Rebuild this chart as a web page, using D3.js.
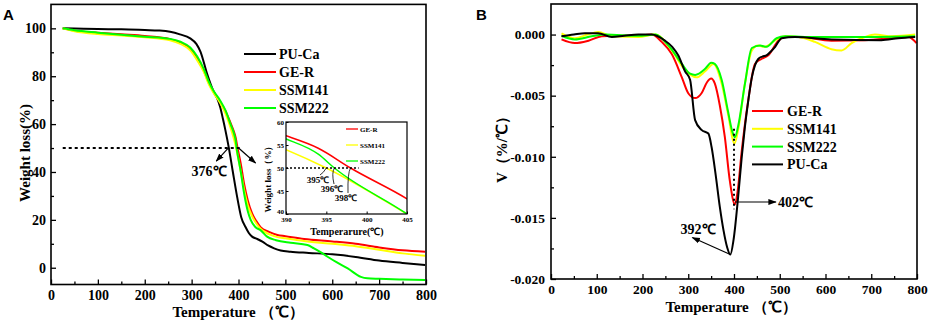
<!DOCTYPE html>
<html>
<head>
<meta charset="utf-8">
<script src="https://cdn.jsdelivr.net/npm/d3@7"></script>
<style>
body { margin: 0; background: #fff; }
svg { display: block; }
text { font-family: "Liberation Serif", "Times New Roman", serif; font-weight: bold; fill: #000; }
</style>
</head>
<body>
<svg id="chart"></svg>
<script>
const width = 931, height = 322;

// Series names and colours (TGA panel order / DTG panel order)
const seriesA = ["PU-Ca", "GE-R", "SSM141", "SSM222"];
const seriesB = ["GE-R", "SSM141", "SSM222", "PU-Ca"];
const colors = { "PU-Ca": "#000000", "GE-R": "#ff0000", "SSM141": "#ffff00", "SSM222": "#00ff00" };

// Panel A: weight (%) vs temperature (℃)
const tgaPUCa = [[25,100],[50,99.9],[100,99.7],[150,99.6],[200,99.3],[230,99.1],[254,98.6],[275,97.5],[297,95.8],[310,93.5],[319,90.2],[333,81],[347,73.5],[355,70.5],[361,67],[367,62],[372,57.5],[379,50.5],[388,40],[397,29.7],[406,21],[415,17],[422,14.5],[429,13],[440,12],[451,10.9],[463,9.3],[476,8.1],[490,7.2],[511,6.7],[550,6.2],[600,5.6],[650,4.5],[700,3],[750,2],[798,1.1]];
const tgaGER = [[25,100],[50,99],[100,98.2],[150,97.5],[200,96.8],[254,95.5],[276,94],[297,91.3],[312,87.2],[326,82.3],[337,77],[347,73.5],[361,69.2],[372,65.5],[383,60.5],[390,57],[394,54.3],[398,50],[405,43.3],[412,35],[420,28],[429,22.7],[438,19.5],[447,17],[465,15],[483,13.7],[500,13.2],[540,12],[600,11],[650,10],[700,8.5],[750,7.3],[798,6.7]];
const tgaSSM141 = [[25,100],[50,98.8],[100,97.6],[150,97],[200,96.3],[254,95],[276,93.5],[297,90.8],[312,86.6],[326,81.8],[337,76.5],[347,73],[361,68.8],[372,64.5],[383,58.5],[390,54],[395,50],[405,40],[412,32.5],[420,26],[429,21.5],[438,18.5],[447,16.3],[465,14],[483,12.8],[500,12.3],[540,11.2],[600,10],[650,9],[700,7.5],[750,6],[798,5]];
const tgaSSM222 = [[25,100],[50,99.2],[100,98.2],[150,97.3],[200,96.5],[254,95.6],[276,94.4],[297,92],[312,88.2],[326,83],[337,77.5],[347,73.8],[361,69.8],[372,65.8],[383,60],[390,56.3],[394,53],[396,50],[405,40],[412,31],[420,23.5],[426,20],[436,17],[447,15.7],[461,13],[480,11.5],[511,10.4],[547,9.5],[561,8.1],[575,6.5],[590,4.6],[610,2.2],[633,-0.3],[661,-3.8],[675,-4.4],[700,-4.6],[750,-4.9],[798,-5.1]];

// Panel B: DTG rate (%/℃) vs temperature (℃)
const dtgGER = [[23,-0.0004],[52,-0.0007],[82,-0.0005],[111,-0.00014],[140,-0.0001],[180,-0.0001],[220,0],[242,-0.0006],[264,-0.0016],[286,-0.0035],[300,-0.0048],[315,-0.0052],[329,-0.0048],[341,-0.0039],[350,-0.0036],[358,-0.004],[369,-0.0058],[380,-0.0084],[391,-0.012],[402,-0.0139],[408,-0.0128],[417,-0.0095],[431,-0.0054],[446,-0.0024],[460,-0.002],[475,-0.0017],[497,-0.0005],[512,-0.0002],[541,-0.0002],[613,-0.0005],[686,-0.00046],[759,-0.00025],[781,-0.0002],[799,-0.0007]];
const dtgSSM141 = [[23,0.0001],[52,-0.0003],[80,0],[103,0.0002],[133,-0.00014],[191,-0.0002],[228,0],[264,-0.0013],[293,-0.0029],[318,-0.0035],[337,-0.003],[355,-0.0024],[373,-0.004],[387,-0.0065],[401,-0.0089],[409,-0.0078],[424,-0.004],[439,-0.0013],[453,-0.0009],[467,-0.001],[493,-0.0004],[512,-0.00014],[541,-0.0002],[577,-0.0006],[613,-0.0012],[635,-0.0013],[657,-0.0007],[686,-0.0002],[708,0],[745,-0.00014],[796,0]];
const dtgSSM222 = [[23,-0.0001],[52,-0.0004],[89,-0.00014],[118,0],[191,-0.0001],[228,0],[257,-0.0009],[286,-0.0024],[304,-0.0032],[315,-0.0033],[337,-0.0028],[350,-0.0023],[358,-0.0024],[373,-0.0037],[387,-0.0063],[396,-0.0079],[402,-0.0084],[409,-0.0075],[424,-0.004],[439,-0.0011],[457,-0.0009],[471,-0.001],[493,-0.0003],[512,-0.00014],[577,-0.0002],[686,-0.0002],[796,-0.00014]];
const dtgPUCa = [[23,-0.00014],[50,0],[74,0.0001],[103,0.0001],[133,-0.0002],[160,-0.0001],[191,0],[220,0],[249,-0.0005],[265,-0.001],[278,-0.0017],[293,-0.003],[304,-0.0037],[315,-0.007],[329,-0.0078],[344,-0.0081],[351,-0.0092],[360,-0.0115],[369,-0.0141],[377,-0.016],[385,-0.0174],[392,-0.018],[399,-0.0168],[409,-0.0133],[417,-0.01],[424,-0.0075],[432,-0.0052],[439,-0.0035],[446,-0.0025],[453,-0.002],[462,-0.0018],[471,-0.0017],[480,-0.0014],[490,-0.001],[504,-0.0003],[533,-0.0002],[613,-0.0004],[722,-0.00046],[759,-0.0003],[796,-0.0002]];

const tgaData = { "PU-Ca": tgaPUCa, "GE-R": tgaGER, "SSM141": tgaSSM141, "SSM222": tgaSSM222 };
const dtgData = { "GE-R": dtgGER, "SSM141": dtgSSM141, "SSM222": dtgSSM222, "PU-Ca": dtgPUCa };

// Tick values
const tempTicks = [0, 100, 200, 300, 400, 500, 600, 700, 800];
const tempMinor = [50, 150, 250, 350, 450, 550, 650, 750];
const weightTicks = [0, 20, 40, 60, 80, 100];
const weightMinor = [10, 30, 50, 70, 90];
const rateTicks = [0, -0.005, -0.010, -0.015, -0.020];
const rateMinor = [-0.0025, -0.0075, -0.0125, -0.0175];
const insetTempTicks = [390, 395, 400, 405];
const insetWeightTicks = [40, 45, 50, 55, 60];
const insetSeries = ["GE-R", "SSM141", "SSM222"];
const insetCross = [395, 396, 398];

const svg = d3.select("#chart")
    .attr("width", width)
    .attr("height", height)
    .attr("viewBox", [0, 0, width, height]);

const defs = svg.append("defs");
defs.append("marker")
    .attr("id", "arrow")
    .attr("viewBox", "0 0 10 10")
    .attr("refX", 9).attr("refY", 5)
    .attr("markerWidth", 7).attr("markerHeight", 7)
    .attr("orient", "auto-start-reverse")
    .append("path")
    .attr("d", "M0,1.5L10,5L0,8.5Z")
    .attr("fill", "#000");

function drawAxes(g, x, y, o) {
    const [x0, x1] = x.range(), [y0, y1] = y.range();
    // major + minor ticks pointing inward
    g.append("g").attr("transform", `translate(0,${y0})`)
        .call(d3.axisBottom(x).tickValues(o.xTicks).tickSize(-o.tick).tickSizeOuter(0).tickPadding(o.xPad).tickFormat(o.xFmt || d3.format("d")))
        .call(a => a.select(".domain").remove())
        .call(a => a.selectAll("text").attr("font-size", o.font).attr("fill", "#000"));
    if (o.xMinor) g.append("g").attr("transform", `translate(0,${y0})`)
        .call(d3.axisBottom(x).tickValues(o.xMinor).tickSize(-o.tick * 0.6).tickSizeOuter(0).tickFormat(""))
        .call(a => a.select(".domain").remove());
    g.append("g").attr("class", "y-axis").attr("transform", `translate(${x0},0)`)
        .call(d3.axisLeft(y).tickValues(o.yTicks).tickSize(-o.tick).tickSizeOuter(0).tickPadding(o.yPad).tickFormat(o.yFmt || d3.format("d")))
        .call(a => a.select(".domain").remove())
        .call(a => a.selectAll("text").attr("font-size", o.font).attr("fill", "#000"));
    if (o.yMinor) g.append("g").attr("transform", `translate(${x0},0)`)
        .call(d3.axisLeft(y).tickValues(o.yMinor).tickSize(-o.tick * 0.6).tickSizeOuter(0).tickFormat(""))
        .call(a => a.select(".domain").remove());
    g.selectAll(".tick line").attr("stroke", "#000").attr("stroke-width", o.tickW || 1.3);
    g.append("rect")
        .attr("x", x0).attr("y", y1)
        .attr("width", x1 - x0).attr("height", y0 - y1)
        .attr("fill", "none").attr("stroke", "#000").attr("stroke-width", o.frame);
}

// ---------- Panel A ----------
const xA = d3.scaleLinear().domain([0, 800]).range([51, 426]);
const yA = d3.scaleLinear().domain([-7, 110]).range([284.5, 4.4]);
const gA = svg.append("g");

const lineA = d3.line().x(d => xA(d[0])).y(d => yA(d[1])).curve(d3.curveMonotoneX);

seriesA.forEach(s => {
    gA.append("path")
        .attr("d", lineA(tgaData[s]))
        .attr("fill", "none")
        .attr("stroke", colors[s])
        .attr("stroke-width", 2);
});

drawAxes(gA, xA, yA, { xTicks: tempTicks, xMinor: tempMinor, yTicks: weightTicks, yMinor: weightMinor,
    tick: 5, xPad: 6, yPad: 5, font: 14, frame: 1.6 });

gA.append("text").attr("x", 238).attr("y", 317).attr("text-anchor", "middle").attr("font-size", 15)
    .text("Temperature （℃）");
gA.append("text").attr("transform", "translate(30,153) rotate(-90)").attr("text-anchor", "middle").attr("font-size", 15)
    .text("Weight loss(%)");
svg.append("text").attr("x", 3).attr("y", 20).attr("font-size", 15)
    .style("font-family", "'Liberation Sans', Arial, sans-serif").text("A");

// 50% marker line and arrows
gA.append("line")
    .attr("x1", xA(25)).attr("x2", xA(404))
    .attr("y1", yA(50)).attr("y2", yA(50))
    .attr("stroke", "#000").attr("stroke-width", 2).attr("stroke-dasharray", "3,3");
gA.append("line")
    .attr("x1", xA(376) + 1).attr("y1", yA(50))
    .attr("x2", xA(376) - 11).attr("y2", yA(50) + 13)
    .attr("stroke", "#000").attr("stroke-width", 1.2).attr("marker-end", "url(#arrow)");
gA.append("line")
    .attr("x1", xA(398) + 1).attr("y1", yA(50))
    .attr("x2", xA(398) + 18).attr("y2", yA(50) + 15)
    .attr("stroke", "#000").attr("stroke-width", 1.2).attr("marker-end", "url(#arrow)");
gA.append("text").attr("x", 209).attr("y", 176).attr("text-anchor", "middle").attr("font-size", 14).text("376℃");

// legend A
seriesA.forEach((s, i) => {
    const ly = 54 + i * 18;
    gA.append("line").attr("x1", 244).attr("x2", 276).attr("y1", ly).attr("y2", ly)
        .attr("stroke", colors[s]).attr("stroke-width", 2);
    gA.append("text").attr("x", 279).attr("y", ly + 5).attr("font-size", 14).text(s);
});

// inset
const xI = d3.scaleLinear().domain([390, 405]).range([286, 407]);
const yI = d3.scaleLinear().domain([40, 60]).range([214, 122]);
const gI = gA.append("g");
gI.append("rect").attr("x", 286).attr("y", 122).attr("width", 121).attr("height", 92).attr("fill", "#fff");
defs.append("clipPath").attr("id", "inset-clip")
    .append("rect").attr("x", 286).attr("y", 122).attr("width", 121).attr("height", 92);
const lineI = d3.line().x(d => xI(d[0])).y(d => yI(d[1])).curve(d3.curveMonotoneX);
const insetG = gI.append("g").attr("clip-path", "url(#inset-clip)");
insetSeries.forEach(s => {
    insetG.append("path")
        .attr("d", lineI(tgaData[s].filter(d => d[0] >= 383 && d[0] <= 412)))
        .attr("fill", "none").attr("stroke", colors[s]).attr("stroke-width", 1.5);
});
drawAxes(gI, xI, yI, { xTicks: insetTempTicks, yTicks: insetWeightTicks, tick: 2.5, xPad: 3, yPad: 2,
    font: 7, frame: 1.2, tickW: 1 });
// lift the bottom-left "40" a touch so it clears "390"
gI.selectAll(".y-axis .tick text").filter(d => d === 40).attr("dy", "-0.1em");
gI.append("line")
    .attr("x1", xI(390)).attr("x2", xI(399))
    .attr("y1", yI(50)).attr("y2", yI(50))
    .attr("stroke", "#000").attr("stroke-width", 1.3).attr("stroke-dasharray", "2,2");
insetSeries.forEach((s, i) => {
    const ly = 129 + i * 16;
    gI.append("line").attr("x1", 346).attr("x2", 358).attr("y1", ly).attr("y2", ly)
        .attr("stroke", colors[s]).attr("stroke-width", 1.3);
    gI.append("text").attr("x", 360).attr("y", ly + 2.5).attr("font-size", 7).text(s);
});
const insetLabelPos = [[318, 183], [332, 192], [346, 201]];
insetCross.forEach((t, i) => {
    const [lx, ly] = insetLabelPos[i];
    gI.append("text").attr("x", lx).attr("y", ly).attr("text-anchor", "middle").attr("font-size", 9).text(t + "℃");
    const px = xI(t), py = yI(50);
    gI.append("path")
        .attr("d", `M${lx + 2},${ly - 8}Q${px - 3},${py + 5} ${px},${py}`)
        .attr("fill", "none").attr("stroke", "#000").attr("stroke-width", 0.8);
});
gI.append("text").attr("x", 347).attr("y", 235).attr("text-anchor", "middle").attr("font-size", 10).text("Temperarure(℃)");
gI.append("text").attr("transform", "translate(271,177) rotate(-90)").attr("text-anchor", "middle").attr("font-size", 9)
    .text("Weight loss（%）");

// ---------- Panel B ----------
const xB = d3.scaleLinear().domain([0, 800]).range([551, 917]);
const yB = d3.scaleLinear().domain([-0.020, 0.0025]).range([279, 4]);
const gB = svg.append("g");

const lineB = d3.line().x(d => xB(d[0])).y(d => yB(d[1])).curve(d3.curveMonotoneX);
seriesB.forEach(s => {
    gB.append("path")
        .attr("d", lineB(dtgData[s]))
        .attr("fill", "none")
        .attr("stroke", colors[s])
        .attr("stroke-width", 2);
});

drawAxes(gB, xB, yB, { xTicks: tempTicks, xMinor: tempMinor, yTicks: rateTicks, yMinor: rateMinor,
    tick: 5, xPad: 5, yPad: 6, font: 13.5, frame: 1.6, yFmt: d => d.toFixed(3) });

gB.append("text").attr("x", 731).attr("y", 312).attr("text-anchor", "middle").attr("font-size", 15)
    .text("Temperature （℃）");
gB.append("text").attr("transform", "translate(507,146) rotate(-90)").attr("text-anchor", "middle").attr("font-size", 15)
    .text("V（%/℃）");
svg.append("text").attr("x", 476).attr("y", 20).attr("font-size", 15)
    .style("font-family", "'Liberation Sans', Arial, sans-serif").text("B");

// peak markers
gB.append("line")
    .attr("x1", xB(400)).attr("x2", xB(400))
    .attr("y1", yB(-0.0077)).attr("y2", yB(-0.0143))
    .attr("stroke", "#000").attr("stroke-width", 2).attr("stroke-dasharray", "2,3");
gB.append("line")
    .attr("x1", xB(402)).attr("y1", yB(-0.0137))
    .attr("x2", xB(402) + 41).attr("y2", yB(-0.0137))
    .attr("stroke", "#000").attr("stroke-width", 1.2).attr("marker-end", "url(#arrow)");
gB.append("text").attr("x", 778).attr("y", yB(-0.0137) + 5).attr("font-size", 14).text("402℃");
gB.append("line")
    .attr("x1", xB(392)).attr("y1", yB(-0.018))
    .attr("x2", xB(392) - 38).attr("y2", yB(-0.018) - 17)
    .attr("stroke", "#000").attr("stroke-width", 1.2).attr("marker-end", "url(#arrow)");
gB.append("text").attr("x", 698).attr("y", 234).attr("text-anchor", "middle").attr("font-size", 14).text("392℃");

// legend B
seriesB.forEach((s, i) => {
    const ly = 111 + i * 17.8;
    gB.append("line").attr("x1", 752).attr("x2", 783).attr("y1", ly).attr("y2", ly)
        .attr("stroke", colors[s]).attr("stroke-width", 2);
    gB.append("text").attr("x", 787).attr("y", ly + 5).attr("font-size", 14).text(s);
});
</script>
</body>
</html>
